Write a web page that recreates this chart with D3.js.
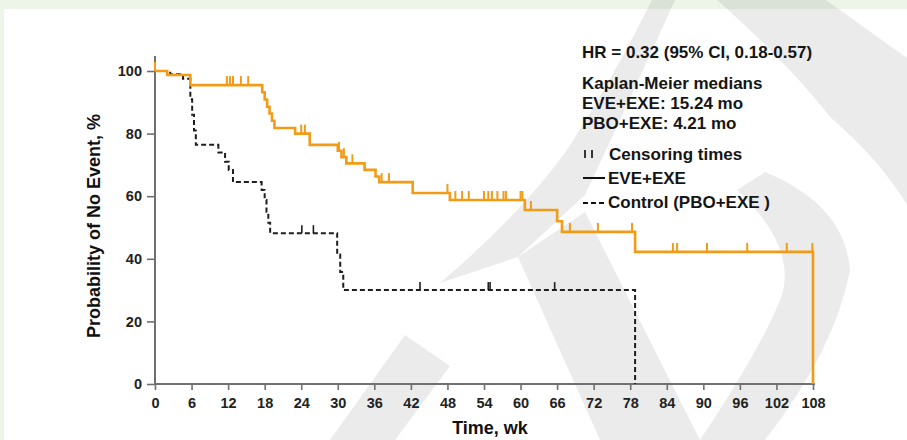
<!DOCTYPE html>
<html>
<head>
<meta charset="utf-8">
<script src="https://cdn.jsdelivr.net/npm/d3@7"></script>
<style>
  body { margin: 0; background: #fff; }
  svg { display: block; font-family: "Liberation Sans", Arial, sans-serif; }
</style>
</head>
<body>
<svg id="chart" width="907" height="440"></svg>
<script>
// EVE+EXE arm: step times (wk) and survival (%)
var eveTimes = [0, 2, 5.8, 17.6, 18, 18.4, 18.8, 19.2, 19.6, 23, 25.4, 30, 30.6, 31.4, 34.4, 36.2, 36.8, 42.3, 48.4, 60.7, 66, 66.8, 78.8, 108];
var eveSurv  = [100, 98.7, 95.5, 93.2, 90.9, 88.6, 86.4, 84.1, 81.8, 80, 76.4, 74.5, 72.5, 70.5, 68.4, 66.3, 64.5, 61, 58.8, 55.6, 52, 48.6, 42.2, 0];
var eveCensor = [0, 11.8, 12.3, 12.8, 14.1, 15.3, 24, 24.6, 30.2, 31, 32.4, 37.2, 38.4, 48, 49.3, 50.4, 51.5, 54, 54.7, 55.3, 56.2, 57.2, 57.6, 60, 60.3, 61.7, 68.1, 72.7, 78.3, 85, 85.7, 90.6, 97.2, 103.7, 107.9];

// Control arm (PBO+EXE)
var pboTimes = [0, 2.5, 4.6, 5.8, 6.1, 6.4, 6.7, 10.4, 11.5, 12.1, 12.8, 17.5, 18, 18.3, 18.6, 18.9, 29.9, 30.4, 30.9, 78.8];
var pboSurv  = [100, 99, 97.5, 91, 86, 81, 76.4, 74, 71, 68.4, 64.5, 62, 58.8, 55, 51.5, 48.2, 41.4, 35.8, 30, 0];
var pboCensor = [24.1, 26, 43.5, 54.7, 55, 65.6];

var xTicks = d3.range(0, 109, 6);
var yTicks = [0, 20, 40, 60, 80, 100];

var legendNotes = ['HR = 0.32 (95% CI, 0.18-0.57)', 'Kaplan-Meier medians', 'EVE+EXE: 15.24 mo', 'PBO+EXE: 4.21 mo'];

var orange = '#f29b17',
    dark = '#1e1e1e',
    axisGrey = '#707070';

var svg = d3.select('#chart');

// page background + panel
svg.append('rect').attr('width', 907).attr('height', 440).attr('fill', '#edf5e9');
svg.append('rect').attr('x', 4).attr('y', 9).attr('width', 903).attr('height', 431).attr('fill', '#fff');

// faint watermark shapes behind the chart (rough)
var wm = svg.append('g').attr('fill', '#000').attr('fill-opacity', 0.08);
wm.append('path').attr('d', 'M405,335 L450,366 L395,440 L330,440 Z');
wm.append('path').attr('d', 'M440,283 Q520,215 567,150 Q615,75 652,0 L675,0 Q632,95 585,195 L518,257 Z');
wm.append('path').attr('d', 'M518,257 L585,212 L700,440 L600,440 Z');
wm.append('path').attr('d', 'M717,0 L826,0 L907,58 L907,205 Q880,160 830,117 Q790,65 717,0 Z');
wm.append('path').attr('d', 'M737,190 Q800,250 780,300 Q760,350 700,440 L765,440 Q835,350 850,270 Q845,205 765,172 Z');

var x = d3.scaleLinear().domain([0, 108]).range([155, 813]);
var y = d3.scaleLinear().domain([0, 100]).range([384, 71]);

// axes
var yAxis = svg.append('g')
  .attr('transform', 'translate(155,0)')
  .call(d3.axisLeft(y).tickValues(yTicks).tickSize(8).tickPadding(5));
var xAxis = svg.append('g')
  .attr('transform', 'translate(0,384)')
  .call(d3.axisBottom(x).tickValues(xTicks).tickSize(6).tickPadding(8));

[yAxis, xAxis].forEach(function(ax) {
  ax.select('.domain').remove();
  ax.selectAll('.tick line').attr('stroke', axisGrey).attr('stroke-width', 1.6);
  ax.selectAll('.tick text')
    .attr('fill', '#222')
    .style('font-size', '14.5px')
    .style('font-weight', 'bold');
});
svg.append('line').attr('x1', 155).attr('x2', 155).attr('y1', 56).attr('y2', 385)
  .attr('stroke', axisGrey).attr('stroke-width', 2);
svg.append('line').attr('x1', 154).attr('x2', 815).attr('y1', 384).attr('y2', 384)
  .attr('stroke', axisGrey).attr('stroke-width', 2);

svg.append('text')
  .attr('x', 490).attr('y', 434)
  .attr('text-anchor', 'middle')
  .attr('fill', '#111')
  .style('font-size', '18px').style('font-weight', 'bold')
  .text('Time, wk');
svg.append('text')
  .attr('transform', 'translate(100,226) rotate(-90)')
  .attr('text-anchor', 'middle')
  .attr('fill', '#111')
  .style('font-size', '18px').style('font-weight', 'bold')
  .text('Probability of No Event, %');

// survival curves
function stepPoints(times, surv) {
  return times.map(function(t, i) { return [t, surv[i]]; });
}
function survAt(times, surv, t) {
  var v = surv[0];
  for (var i = 0; i < times.length; i++) {
    if (times[i] <= t && surv[i] > 0) { v = surv[i]; }
  }
  return v;
}
var line = d3.line()
  .x(function(d) { return x(d[0]); })
  .y(function(d) { return y(d[1]); })
  .curve(d3.curveStepAfter);

svg.append('path')
  .datum(stepPoints(pboTimes, pboSurv))
  .attr('d', line)
  .attr('fill', 'none')
  .attr('stroke', dark)
  .attr('stroke-width', 2)
  .attr('stroke-dasharray', '5,3');

svg.append('path')
  .datum(stepPoints(eveTimes, eveSurv))
  .attr('d', line)
  .attr('fill', 'none')
  .attr('stroke', orange)
  .attr('stroke-width', 2.6);

// censoring marks
svg.append('g').selectAll('line')
  .data(pboCensor)
  .enter().append('line')
  .attr('x1', function(d) { return x(d); })
  .attr('x2', function(d) { return x(d); })
  .attr('y1', function(d) { return y(survAt(pboTimes, pboSurv, d)); })
  .attr('y2', function(d) { return y(survAt(pboTimes, pboSurv, d)) - 8; })
  .attr('stroke', dark).attr('stroke-width', 1.6);

svg.append('g').selectAll('line')
  .data(eveCensor)
  .enter().append('line')
  .attr('x1', function(d) { return x(d); })
  .attr('x2', function(d) { return x(d); })
  .attr('y1', function(d) { return y(survAt(eveTimes, eveSurv, d)); })
  .attr('y2', function(d) { return y(survAt(eveTimes, eveSurv, d)) - 9; })
  .attr('stroke', orange).attr('stroke-width', 2);

// legend / annotations
var notes = svg.append('g')
  .attr('fill', '#151515')
  .style('font-size', '17px')
  .style('font-weight', 'bold');
var noteY = [58, 89, 109, 129];
legendNotes.forEach(function(t, i) {
  notes.append('text').attr('x', 582).attr('y', noteY[i]).text(t);
});
notes.append('text').attr('x', 609).attr('y', 160).text('Censoring times');
notes.append('text').attr('x', 608).attr('y', 184).text('EVE+EXE');
notes.append('text').attr('x', 608).attr('y', 208).text('Control (PBO+EXE )');

[585, 592].forEach(function(px) {
  svg.append('line').attr('x1', px).attr('x2', px).attr('y1', 150).attr('y2', 158)
    .attr('stroke', '#222').attr('stroke-width', 1.8);
});
svg.append('line').attr('x1', 583).attr('x2', 605).attr('y1', 178).attr('y2', 178)
  .attr('stroke', '#111').attr('stroke-width', 2);
svg.append('line').attr('x1', 583).attr('x2', 605).attr('y1', 203).attr('y2', 203)
  .attr('stroke', '#111').attr('stroke-width', 2).attr('stroke-dasharray', '5,3');
</script>
</body>
</html>
